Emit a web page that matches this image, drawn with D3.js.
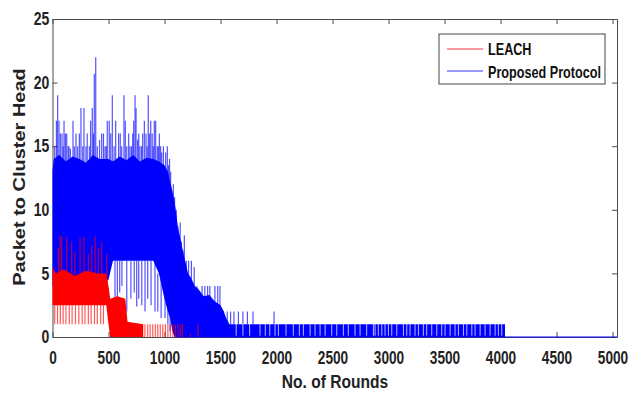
<!DOCTYPE html>
<html>
<head>
<meta charset="utf-8">
<script src="https://cdn.jsdelivr.net/npm/d3@7"></script>
<style>
  body { margin: 0; background: #fff; }
  svg { display: block; font-family: "Liberation Sans", Arial, sans-serif; }
  .axis path, .axis line { stroke: #4a4a4a; }
  .axis text { fill: #222; font-size: 17.5px; font-weight: bold; }
</style>
</head>
<body>
<div id="chart"></div>
<script>
// ticks
var xTicks = [0, 500, 1000, 1500, 2000, 2500, 3000, 3500, 4000, 4500, 5000];
var yTicks = [0, 5, 10, 15, 20, 25];

// Proposed Protocol: dense band [round, low, high]
var blueCore = [
  [0, 4, 13], [10, 4, 14], [60, 4, 14.3], [120, 4, 13.8], [180, 4, 14.2],
  [240, 4, 14], [300, 4, 13.7], [360, 4, 14.3], [420, 4, 14], [500, 4.5, 14],
  [540, 6, 13.8], [600, 6, 14.2], [660, 6, 13.9], [720, 6, 14.3], [780, 6, 13.8],
  [840, 6, 14.1], [900, 6, 14], [950, 5, 13.8], [1000, 3, 13.5], [1030, 2, 13],
  [1050, 1.5, 12.2], [1070, 0.5, 11.5], [1090, 0, 10.6], [1100, 0, 10],
  [1120, 0, 8.6], [1140, 0, 7.8], [1170, 0, 6.5], [1190, 0, 5.8], [1210, 0, 5],
  [1240, 0, 4.6], [1270, 0, 4], [1300, 0, 3.8], [1350, 0, 3.2], [1400, 0, 3.3],
  [1450, 0, 2.8], [1500, 0, 2.5], [1530, 0, 2], [1550, 0, 1.5], [1580, 0, 1],
  [4040, 0, 1]
];
// Proposed Protocol: single excursions [round, from, to]
var blueSpikes = [
  [20, 12, 15], [35, 12, 17], [46, 12, 19], [58, 12, 17], [70, 12, 16],
  [85, 12, 16], [95, 12, 15], [103, 12, 17], [115, 12, 16], [127, 12, 16],
  [140, 12, 15], [147, 12, 15], [160, 12, 14.8], [183, 12, 17], [195, 12, 15],
  [210, 12, 16], [225, 12, 15], [240, 12, 16], [254, 12, 18], [270, 12, 15],
  [281, 12, 18], [299, 12, 15], [310, 12, 16], [329, 12, 15], [340, 12, 17],
  [355, 12, 18], [365, 12, 16], [373, 12, 20.7], [386, 12, 22], [400, 12, 15],
  [420, 12, 15.5], [439, 12, 16], [455, 12, 16], [469, 12, 15], [480, 12, 15],
  [489, 12, 17], [507, 12, 17], [520, 12, 16], [534, 12, 19], [550, 12, 15],
  [564, 12, 17], [590, 12, 16], [605, 12, 16], [618, 12, 15], [638, 12, 19],
  [650, 12, 17], [663, 12, 15], [680, 12, 16], [692, 12, 15], [705, 12, 15],
  [716, 12, 16], [725, 12, 17], [737, 12, 19], [746, 12, 18], [760, 12, 15.5],
  [770, 12, 16], [781, 12, 15], [795, 12, 15], [805, 12, 16], [820, 12, 17],
  [835, 12, 16], [845, 12, 15], [855, 12, 19], [865, 12, 16], [877, 12, 17],
  [890, 12, 16], [900, 12, 15], [909, 12, 17], [921, 12, 17], [935, 12, 15],
  [945, 12, 15], [954, 12, 16], [965, 12, 15], [975, 12, 14.5], [990, 12, 15],
  [1010, 12, 14.5], [1025, 12, 15], [1035, 11, 13.5], [1045, 11, 14],
  [1055, 10, 13], [1079, 8, 12], [1090, 8, 11], [1105, 7, 10], [1120, 6, 8.7],
  [1140, 5, 9], [1150, 5, 7.5], [1166, 4, 6.8], [1177, 4, 8], [1195, 3, 6],
  [1215, 3, 6], [1240, 3, 6], [1265, 3, 5.5], [1290, 2, 4], [1335, 2, 4],
  [1360, 2, 4], [1385, 2, 4], [1405, 2, 4], [1450, 2, 4], [1475, 2, 4],
  [1495, 2, 4], [1560, 1, 2], [1590, 1, 2], [1620, 1, 2], [1660, 1, 2],
  [1700, 1, 2], [1740, 1, 2], [1790, 1, 2], [1978, 1, 2],
  [558, 2.4, 6], [579, 3, 6], [600, 3.5, 6], [620, 4, 6], [663, 2, 6],
  [700, 3, 6], [730, 3.5, 6], [752, 2.4, 6], [770, 3, 6], [797, 2.5, 6],
  [826, 2, 6], [850, 3, 6], [880, 2.5, 6], [915, 2, 6], [940, 2, 5],
  [970, 1.5, 5], [1005, 1.5, 4], [1030, 1, 3], [1050, 0.5, 2], [1064, 1, 2]
];
// rounds where the protocol drops back to 0 inside the 0-1 band
var blueZeroRounds = [
  1640, 1700, 1760, 1853, 1900, 1940, 1987, 2017, 2085, 2150, 2204, 2240,
  2300, 2344, 2389, 2434, 2493, 2538, 2597, 2641, 2701, 2746, 2805, 2865,
  2880, 2909, 2940, 2969, 2999, 3029, 3074, 3133, 3163, 3192, 3237, 3267,
  3311, 3341, 3386, 3431, 3475, 3505, 3550, 3594, 3624, 3669, 3699, 3744,
  3773, 3818, 3862, 3907, 3952, 3981, 4011
];
var blueFloor = [[1100, 0], [5040, 0]];

// LEACH
var redCore = [
  [0, 2.5, 5.5], [30, 2.5, 5], [100, 2.5, 5.3], [200, 2.5, 4.8], [300, 2.5, 5.2],
  [400, 2.5, 5], [480, 2.5, 5], [500, 1, 4], [515, 0, 3], [580, 0, 3.2],
  [650, 0, 3], [670, 0, 1.2], [810, 0, 1]
];
var redSpikes = [
  [52, 4, 7], [67, 4, 8], [82, 4, 7.9], [127, 4, 7.9], [171, 4, 7.5],
  [201, 4, 6.7], [246, 4, 7.8], [281, 4, 7.9], [320, 4, 6.5], [350, 4, 7.2],
  [380, 4, 7.9], [409, 4, 7], [439, 4, 7.5], [484, 4, 6.5],
  [20, 1, 3], [45, 1, 3], [70, 1, 3], [95, 1, 3], [120, 1, 3], [150, 1, 3],
  [175, 1, 3], [205, 1, 3], [235, 1, 3], [265, 1, 3], [290, 1, 3],
  [320, 1, 3], [345, 1, 3], [375, 1, 3], [400, 1, 3], [430, 1, 3], [455, 1, 3],
  [825, 0, 1], [850, 0, 1], [872, 0, 1], [895, 0, 1], [918, 0, 1], [940, 0, 1],
  [962, 0, 1], [985, 0, 1], [1008, 0, 1], [1030, 0, 1], [1052, 0, 1],
  [1075, 0, 1], [1098, 0, 1], [1120, 0, 1], [1142, 0, 1], [1160, 0, 1],
  [1230, 0, 0.3], [1300, 0, 1]
];

var series = ["LEACH", "Proposed Protocol"];
var colors = ["#ff0000", "#0000ff"];

var width = 628, height = 394;
var margin = { top: 19, right: 11, bottom: 57, left: 52.5 };

var x = d3.scaleLinear().domain([0, 5040]).range([margin.left, width - margin.right]);
var y = d3.scaleLinear().domain([0, 25]).range([height - margin.bottom, margin.top]);

var svg = d3.select("#chart").append("svg")
  .attr("width", width)
  .attr("height", height);

// axes box first (data is drawn over it)
svg.append("g")
  .attr("class", "axis")
  .attr("transform", "translate(0," + y(0) + ")")
  .call(d3.axisBottom(x).tickValues(xTicks).tickFormat(d3.format("d"))
    .tickSize(-5).tickSizeOuter(0).tickPadding(15))
  .selectAll("text").attr("transform", "scale(0.78,1)");

svg.append("g")
  .attr("class", "axis")
  .attr("transform", "translate(0," + y(25) + ")")
  .call(d3.axisTop(x).tickValues(xTicks).tickSize(-5).tickSizeOuter(0).tickFormat(""));

svg.append("g")
  .attr("class", "axis")
  .attr("transform", "translate(" + x(0) + ",0)")
  .call(d3.axisLeft(y).tickValues(yTicks).tickSize(-5).tickSizeOuter(0).tickPadding(4))
  .selectAll("text").attr("transform", "scale(0.8,1)");

svg.append("g")
  .attr("class", "axis")
  .attr("transform", "translate(" + x(5040) + ",0)")
  .call(d3.axisRight(y).tickValues(yTicks).tickSize(-5).tickSizeOuter(0).tickFormat(""));

svg.selectAll(".domain").attr("stroke", "#4a4a4a");

var band = d3.area()
  .x((d) => x(d[0]))
  .y0((d) => y(d[1]))
  .y1((d) => y(d[2]));

function drawSpikes(data, color, opacity) {
  svg.append("g")
    .selectAll("line")
    .data(data)
    .enter()
    .append("line")
    .attr("x1", (d) => x(d[0]))
    .attr("x2", (d) => x(d[0]))
    .attr("y1", (d) => y(d[1]))
    .attr("y2", (d) => y(d[2]))
    .attr("stroke", color)
    .attr("stroke-width", 1.2)
    .attr("stroke-opacity", opacity);
}

// Proposed Protocol
svg.append("path")
  .datum(blueFloor)
  .attr("fill", "none")
  .attr("stroke", colors[1])
  .attr("stroke-width", 1.2)
  .attr("d", d3.line().x((d) => x(d[0])).y((d) => y(d[1])));

svg.append("path")
  .datum(blueCore)
  .attr("fill", colors[1])
  .attr("d", band);

drawSpikes(blueSpikes, colors[1], 0.68);

svg.append("g")
  .selectAll("line")
  .data(blueZeroRounds)
  .enter()
  .append("line")
  .attr("x1", (d) => x(d))
  .attr("x2", (d) => x(d))
  .attr("y1", y(0.1))
  .attr("y2", y(1.05))
  .attr("stroke", "#fff")
  .attr("stroke-width", 0.9)
  .attr("stroke-opacity", 0.8);

// LEACH
svg.append("path")
  .datum(redCore)
  .attr("fill", colors[0])
  .attr("d", band);

drawSpikes(redSpikes, colors[0], 0.65);

// axis titles
svg.append("text")
  .attr("transform", "translate(335," + (height - 6) + ") scale(0.82,1)")
  .attr("text-anchor", "middle")
  .style("font-size", "19px")
  .style("font-weight", "bold")
  .attr("fill", "#222")
  .text("No. of Rounds");

svg.append("text")
  .attr("transform", "translate(25,177) rotate(-90) scale(1,0.82)")
  .attr("text-anchor", "middle")
  .style("font-size", "20px")
  .style("font-weight", "bold")
  .attr("fill", "#222")
  .text("Packet to Cluster Head");

// legend
var legend = svg.append("g").attr("transform", "translate(439,34)");

legend.append("rect")
  .attr("width", 166)
  .attr("height", 50)
  .attr("fill", "#fff")
  .attr("stroke", "#444");

series.forEach(function (name, i) {
  legend.append("line")
    .attr("x1", 8)
    .attr("x2", 44)
    .attr("y1", 15 + i * 22)
    .attr("y2", 15 + i * 22)
    .attr("stroke", colors[i])
    .attr("stroke-opacity", 0.8);

  legend.append("text")
    .attr("transform", "translate(49," + (21 + i * 23) + ") scale(0.78,1)")
    .style("font-size", "16.2px")
    .style("font-weight", "bold")
    .attr("fill", "#111")
    .text(name);
});
</script>
</body>
</html>
